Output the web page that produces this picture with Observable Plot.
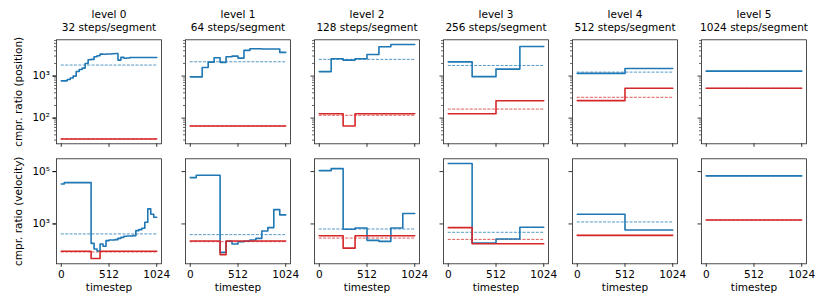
<!DOCTYPE html>
<html><head><meta charset="utf-8">
<script src="https://cdn.jsdelivr.net/npm/d3@7"></script>
<script src="https://cdn.jsdelivr.net/npm/@observablehq/plot@0.6"></script>
<style>
body{margin:0;background:#fff}
#chart{position:relative;width:830px;height:308px;background:#fff}
#chart svg{display:block;overflow:visible}
</style></head><body><div id="chart"></div>
<script>
// ---- data ----
const levels = [0, 1, 2, 3, 4, 5];
const stepsPerSegment = [32, 64, 128, 256, 512, 1024];
const totalSteps = 1024;
const timestepTicks = [0, 512, 1024];
const rowLabels = ["cmpr. ratio (position)", "cmpr. ratio (velocity)"];
const seriesNames = ["series 1", "series 2"];

// compression ratio (position), one value per segment
const posBlue = [
  [770,770,830,900,1000,1290,1440,1550,2000,2450,2500,2880,3040,3330,3300,3350,3350,3400,3450,2400,2780,2650,2700,2760,2760,2760,2760,2760,2760,2760,2760,2760],
  [960,960,1600,2150,2730,2120,2880,2990,2680,4080,4470,4470,4400,4400,4400,3660],
  [1280,2580,2400,2580,3270,5000,5650,5650],
  [2180,970,1465,5050],
  [1160,1520],
  [1310]
];
const posRed = [
  [32,32,32,32,32,32,32,32,32,32,32,32,32,32,32,32,32,32,32,32,32,32,32,32,32,32,32,32,32,32,32,32],
  [65,65,65,65,65,65,65,65,65,65,65,65,65,65,65,65],
  [127,127,65,127,127,127,127,127],
  [127,127,258,258],
  [261,512],
  [512]
];
const posBlueMean = [1830, 2190, 2500, 1790, 1243, 1310];
const posRedMean = [32, 65, 117, 164, 313, 512];

// compression ratio (velocity), one value per segment
const velBlue = [
  [33700,37900,37900,37900,37900,37900,37900,37900,37900,37900,181,111,93,172,140,230,244,244,251,282,308,337,348,348,357,555,606,681,1155,3750,2340,1800],
  [59000,72400,72400,72400,72400,82,217,172,210,217,244,282,540,724,3520,2210],
  [109000,130000,624,702,236,216,702,2500],
  [204000,186,265,745],
  [2340,589],
  [68500]
];
const velRed = [
  [90,90,90,90,90,90,90,90,90,90,48,48,48,90,90,90,90,90,90,90,90,90,90,90,90,90,90,90,90,90,90,90],
  [224,224,224,224,224,67,224,224,224,224,224,224,224,224,224,224],
  [356,356,119,356,356,356,356,356],
  [722,175,175,175],
  [367,367],
  [1423]
];
const velBlueMean = [415, 390, 640, 480, 1190, 68500];
const velRedMean = [85, 210, 289, 257, 367, 1423];

// ---- helpers ----
const colors = ["#1f77b4", "#d62728"];
function stepRows(arrs, series) {
  const rows = [];
  arrs.forEach((vals, l) => {
    const w = stepsPerSegment[l];
    vals.forEach((v, i) => rows.push({level: l, x: i * w, y: v, series}));
    rows.push({level: l, x: vals.length * w, y: vals[vals.length - 1], series});
  });
  return rows;
}
function meanRows(vals, series) {
  return vals.map((v, l) => ({level: l, y: v, x1: 0, x2: totalSteps, series}));
}
const supDigits = {"0":"\u2070","1":"\u00b9","2":"\u00b2","3":"\u00b3","4":"\u2074","5":"\u2075","6":"\u2076","7":"\u2077","8":"\u2078","9":"\u2079"};
const fmtPow = d => "10" + String(Math.round(Math.log10(d))).split("").map(c => supDigits[c]).join("");
function minorTicks(lo, hi) {
  const t = [];
  for (let e = Math.floor(Math.log10(lo)); e <= Math.ceil(Math.log10(hi)); e++)
    for (let m = 2; m <= 9; m++) { const v = m * 10 ** e; if (v >= lo && v <= hi) t.push(v); }
  return t;
}

const font = {fontFamily: "'DejaVu Sans', sans-serif", fontSize: "10.5px", background: "white", color: "black", overflow: "visible"};
const fxOpts = {domain: levels, paddingInner: 0.1892, paddingOuter: 0, label: null};
const xOpts = {domain: [-51.2, 1075.2]};
const colorOpts = {type: "ordinal", domain: seriesNames, range: colors};

function dataMarks(blue, red, blueMean, redMean) {
  const means = [...meanRows(blueMean, seriesNames[0]), ...meanRows(redMean, seriesNames[1])];
  const lines = [...stepRows(blue, seriesNames[0]), ...stepRows(red, seriesNames[1])];
  return [
    Plot.ruleY(means, {fx: "level", y: "y", x1: "x1", x2: "x2", stroke: "series", strokeWidth: 0.9, strokeDasharray: "3,1.4", strokeOpacity: 0.85}),
    Plot.line(lines, {fx: "level", x: "x", y: "y", z: "series", stroke: "series", strokeWidth: 1.6, curve: "step-after"})
  ];
}

const yTopDomain = [24.5, 7300];
const topRow = Plot.plot({
  width: 830, height: 150,
  marginLeft: 53.3, marginRight: 21.3, marginTop: 39.3, marginBottom: 6.7,
  style: font,
  fx: fxOpts, x: xOpts,
  y: {type: "log", domain: yTopDomain},
  color: colorOpts,
  marks: [
    Plot.axisFx({anchor: "top", tickSize: 0, tickPadding: 9, lineHeight: 1.2, label: null,
      tickFormat: l => `level ${l}\n${stepsPerSegment[l]} steps/segment`}),
    Plot.axisX({ticks: timestepTicks, tickSize: 3.5, strokeWidth: 0.8, tickFormat: () => "", label: null}),
    Plot.axisY({ticks: [100, 1000], tickSize: 3.5, tickPadding: 3, strokeWidth: 0.8, tickFormat: fmtPow,
      label: rowLabels[0], labelAnchor: "center", labelOffset: 42, labelArrow: "none"}),
    Plot.axisY({ticks: [100, 1000], tickSize: 3.5, strokeWidth: 0.8, tickFormat: () => "", label: null, facetAnchor: null}),
    Plot.axisY({ticks: minorTicks(...yTopDomain), tickSize: 2, strokeWidth: 0.6, tickFormat: () => "", label: null, facetAnchor: null}),
    ...dataMarks(posBlue, posRed, posBlueMean, posRedMean),
    Plot.frame({stroke: "#222", strokeWidth: 0.8})
  ]
});

const yBotDomain = [30, 308000];
const bottomRow = Plot.plot({
  width: 830, height: 158,
  marginLeft: 53.3, marginRight: 21.3, marginTop: 8.3, marginBottom: 44.7,
  style: font,
  fx: {...fxOpts, axis: null}, x: xOpts,
  y: {type: "log", domain: yBotDomain},
  color: colorOpts,
  marks: [
    Plot.axisX({ticks: timestepTicks, tickSize: 3.5, tickPadding: 3, strokeWidth: 0.8, label: null, tickFormat: d => String(d)}),
    Plot.text(levels, {fx: d => d, text: () => "timestep", frameAnchor: "bottom", dy: 27}),
    Plot.axisY({ticks: [1000, 100000], tickSize: 3.5, tickPadding: 3, strokeWidth: 0.8, tickFormat: fmtPow,
      label: rowLabels[1], labelAnchor: "center", labelOffset: 42, labelArrow: "none"}),
    Plot.axisY({ticks: [1000, 100000], tickSize: 3.5, strokeWidth: 0.8, tickFormat: () => "", label: null, facetAnchor: null}),
    ...dataMarks(velBlue, velRed, velBlueMean, velRedMean),
    Plot.frame({stroke: "#222", strokeWidth: 0.8})
  ]
});

const chart = document.getElementById("chart");
chart.appendChild(topRow);
chart.appendChild(bottomRow);
</script>
</body></html>
